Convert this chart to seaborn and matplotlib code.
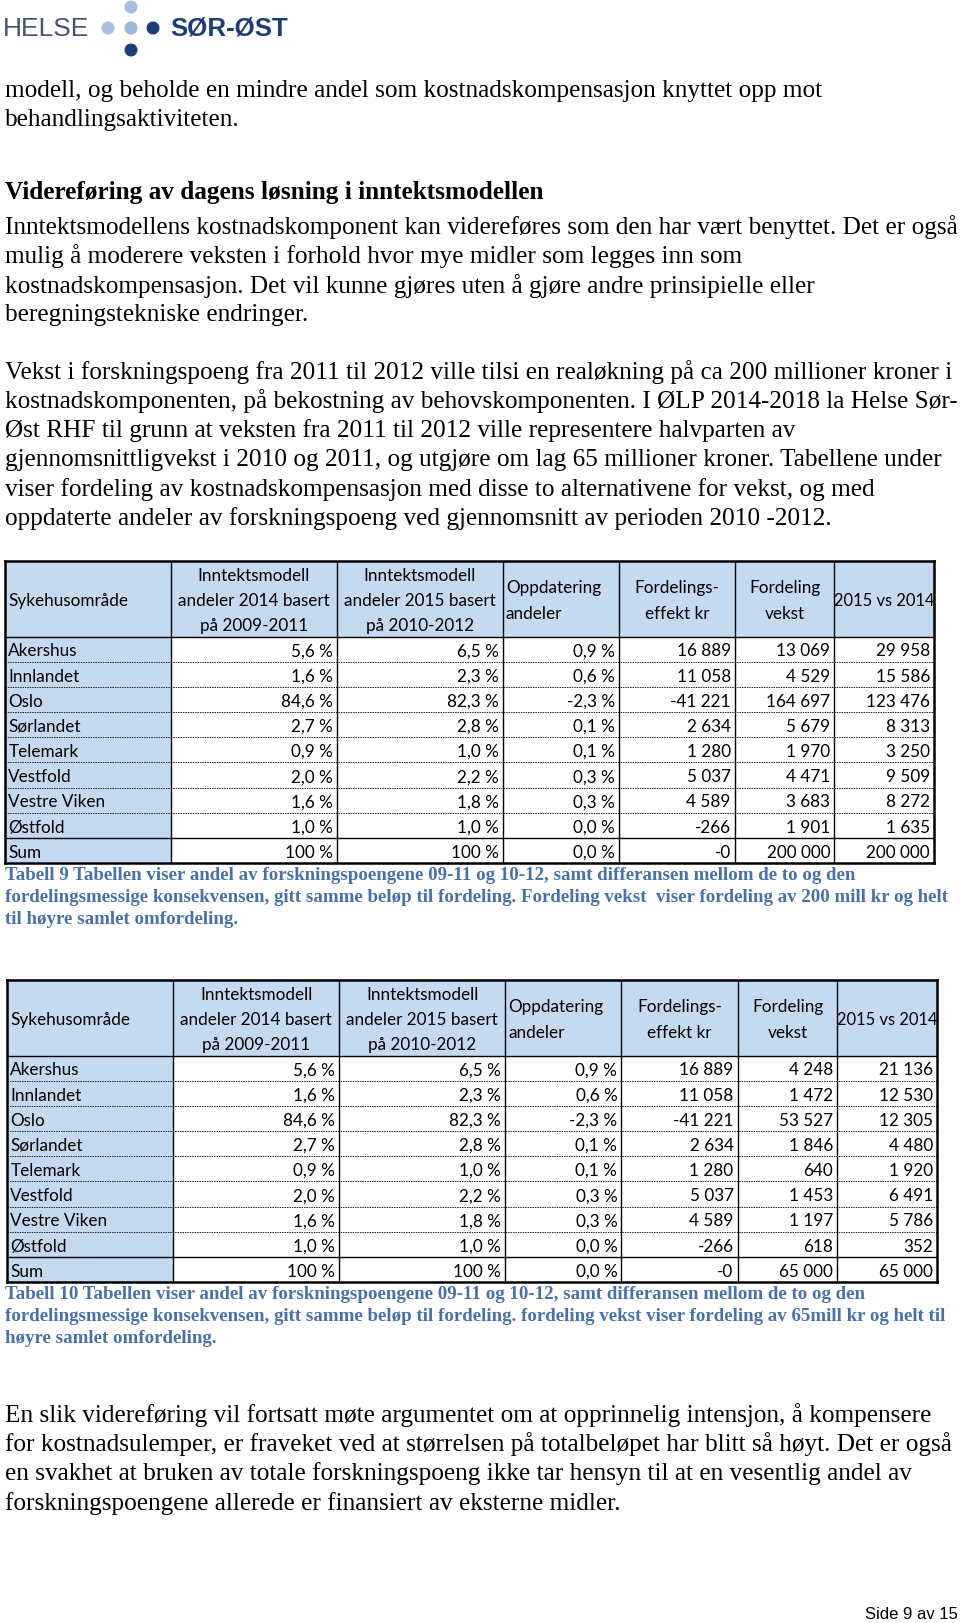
import numpy as np
import matplotlib
matplotlib.use('Agg')
import matplotlib.pyplot as plt
from matplotlib.colors import ListedColormap
from matplotlib.patches import Circle
import seaborn as sns

W, H = 960, 1624

# tabelldata (Tabell 9 og 10)
regions = ['Akershus', 'Innlandet', 'Oslo', 'Sørlandet', 'Telemark',
           'Vestfold', 'Vestre Viken', 'Østfold', 'Sum']
andel_2014 = [5.6, 1.6, 84.6, 2.7, 0.9, 2.0, 1.6, 1.0, 100]
andel_2015 = [6.5, 2.3, 82.3, 2.8, 1.0, 2.2, 1.8, 1.0, 100]
oppdatering = [0.9, 0.6, -2.3, 0.1, 0.1, 0.3, 0.3, 0.0, 0.0]
effekt_kr = [16889, 11058, -41221, 2634, 1280, 5037, 4589, -266, -0.0]  # -0 som i kilden
vekst_200 = [13069, 4529, 164697, 5679, 1970, 4471, 3683, 1901, 200000]
diff_200 = [29958, 15586, 123476, 8313, 3250, 9509, 8272, 1635, 200000]
vekst_65 = [4248, 1472, 53527, 1846, 640, 1453, 1197, 618, 65000]
diff_65 = [21136, 12530, 12305, 4480, 1920, 6491, 5786, 352, 65000]

headers = [
    (['Sykehusområde'], 'left'),
    (['Inntektsmodell', 'andeler 2014 basert', 'på 2009-2011'], 'center'),
    (['Inntektsmodell', 'andeler 2015 basert', 'på 2010-2012'], 'center'),
    (['Oppdatering', 'andeler'], 'left'),
    (['Fordelings-', 'effekt kr'], 'center'),
    (['Fordeling', 'vekst'], 'center'),
    (['2015 vs 2014'], 'center'),
]

para1 = ['modell, og beholde en mindre andel som kostnadskompensasjon knyttet opp mot',
         'behandlingsaktiviteten.']
heading = 'Videreføring av dagens løsning i inntektsmodellen'
para2 = ['Inntektsmodellens kostnadskomponent kan videreføres som den har vært benyttet. Det er også',
         'mulig å moderere veksten i forhold hvor mye midler som legges inn som',
         'kostnadskompensasjon. Det vil kunne gjøres uten å gjøre andre prinsipielle eller',
         'beregningstekniske endringer.']
para3 = ['Vekst i forskningspoeng fra 2011 til 2012 ville tilsi en realøkning på ca 200 millioner kroner i',
         'kostnadskomponenten, på bekostning av behovskomponenten. I ØLP 2014-2018 la Helse Sør-',
         'Øst RHF til grunn at veksten fra 2011 til 2012 ville representere halvparten av',
         'gjennomsnittligvekst i 2010 og 2011, og utgjøre om lag 65 millioner kroner. Tabellene under',
         'viser fordeling av kostnadskompensasjon med disse to alternativene for vekst, og med',
         'oppdaterte andeler av forskningspoeng ved gjennomsnitt av perioden 2010 -2012.']
caption9 = ['Tabell 9 Tabellen viser andel av forskningspoengene 09-11 og 10-12, samt differansen mellom de to og den',
            'fordelingsmessige konsekvensen, gitt samme beløp til fordeling. Fordeling vekst  viser fordeling av 200 mill kr og helt',
            'til høyre samlet omfordeling.']
caption10 = ['Tabell 10 Tabellen viser andel av forskningspoengene 09-11 og 10-12, samt differansen mellom de to og den',
             'fordelingsmessige konsekvensen, gitt samme beløp til fordeling. fordeling vekst viser fordeling av 65mill kr og helt til',
             'høyre samlet omfordeling.']
para4 = ['En slik videreføring vil fortsatt møte argumentet om at opprinnelig intensjon, å kompensere',
         'for kostnadsulemper, er fraveket ved at størrelsen på totalbeløpet har blitt så høyt. Det er også',
         'en svakhet at bruken av totale forskningspoeng ikke tar hensyn til at en vesentlig andel av',
         'forskningspoengene allerede er finansiert av eksterne midler.']
footer = 'Side 9 av 15'

BLUE = '#c5d9f1'
CAP = '#4a70a8'

sns.set_theme(style='white')
plt.rcParams['font.family'] = ['Liberation Serif', 'DejaVu Serif']


def pct(vals):
    out = []
    for i, v in enumerate(vals):
        if i == len(vals) - 1 and v == 100:
            out.append('100 %')
        else:
            out.append(f'{v:.1f} %'.replace('.', ','))
    return out


def kr(vals):
    return [f'{v:,.0f}'.replace(',', ' ') for v in vals]


col_units = [10, 10, 10, 7, 7, 6, 6]
edges = np.concatenate([[0], np.cumsum(col_units)])
n_head = 3
tfont = dict(family='Lato', fontsize=12.3, color='black')


def draw_table(left, top, right, bottom, cols):
    ax = fig.add_axes([left / W, 1 - bottom / H, (right - left) / W, (bottom - top) / H])
    nrows = n_head + len(regions)
    shade = np.zeros((nrows, edges[-1]))
    shade[:n_head, :] = 1
    shade[:, :edges[1]] = 1
    sns.heatmap(shade, cmap=ListedColormap(['white', BLUE]), vmin=0, vmax=1,
                cbar=False, xticklabels=False, yticklabels=False, ax=ax)
    ax.vlines(edges[1:-1], 0, nrows, color='black', lw=1.0)
    ax.hlines([n_head, nrows - 1], 0, edges[-1], color='black', lw=1.0)
    ax.hlines(np.arange(n_head + 1, nrows - 1), 0, edges[-1], color='#222222',
              lw=0.7, linestyles=(0, (1.5, 1)))
    for s in ax.spines.values():
        s.set_visible(True)
        s.set_linewidth(1.8)
        s.set_color('black')

    for j, (lines, align) in enumerate(headers):
        n = len(lines)
        size = 11.9 if j == len(headers) - 1 else tfont['fontsize']
        for k, line in enumerate(lines):
            y = 1.5 + (k - (n - 1) / 2) + 0.05
            kw = dict(tfont, fontsize=size)
            if align == 'left':
                ax.text(edges[j] + 0.2, y, line, ha='left', va='center', **kw)
            else:
                ax.text((edges[j] + edges[j + 1]) / 2, y, line, ha='center', va='center', **kw)

    for i, reg in enumerate(regions):
        y = n_head + i + 0.55
        ax.text(edges[0] + 0.2, y, reg, ha='left', va='center', **tfont)
        for j, col in enumerate(cols):
            ax.text(edges[j + 2] - 0.25, y, col[i], ha='right', va='center', **tfont)
    return ax


fig = plt.figure(figsize=(W / 100, H / 100), dpi=100)
page = fig.add_axes([0, 0, 1, 1])
page.set_xlim(0, W)
page.set_ylim(H, 0)
page.axis('off')

# logo
page.text(3, 29, 'HELSE', fontsize=19, family='Liberation Sans', color='#44546e', va='center')
dots = [(131, 8, '#a6bee0'), (108, 29, '#a6bee0'), (131, 29, '#9db6da'),
        (153, 29, '#1e3c78'), (131, 51, '#1e3c78')]
for x, y, c in dots:
    page.add_patch(Circle((x, y), 5.8, color=c))
page.text(170, 29, 'SØR-ØST', fontsize=18.6, family='Liberation Sans', weight='bold',
          color='#1e3c78', va='center')

body = dict(fontsize=18.2, color='black', va='center', ha='left')


def lines_at(lines, y0, step=29.4, **kw):
    for k, line in enumerate(lines):
        page.text(5, y0 + k * step, line, **kw)


lines_at(para1, 91, **body)
page.text(5, 192, heading, weight='bold', **body)
lines_at(para2, 227, **body)
lines_at(para3, 372, **body)

draw_table(5, 562, 934, 864, [pct(andel_2014), pct(andel_2015), pct(oppdatering),
                              kr(effekt_kr), kr(vekst_200), kr(diff_200)])
capk = dict(fontsize=13.6, weight='bold', color=CAP, va='center', ha='left')
lines_at(caption9, 876, step=21.8, **capk)

draw_table(7, 981, 937, 1283, [pct(andel_2014), pct(andel_2015), pct(oppdatering),
                               kr(effekt_kr), kr(vekst_65), kr(diff_65)])
lines_at(caption10, 1295, step=21.8, **capk)

lines_at(para4, 1415, **body)

page.text(958, 1615, footer, fontsize=12, family='Liberation Sans', color='black',
          ha='right', va='center')

fig.savefig('out.png', dpi=100)
